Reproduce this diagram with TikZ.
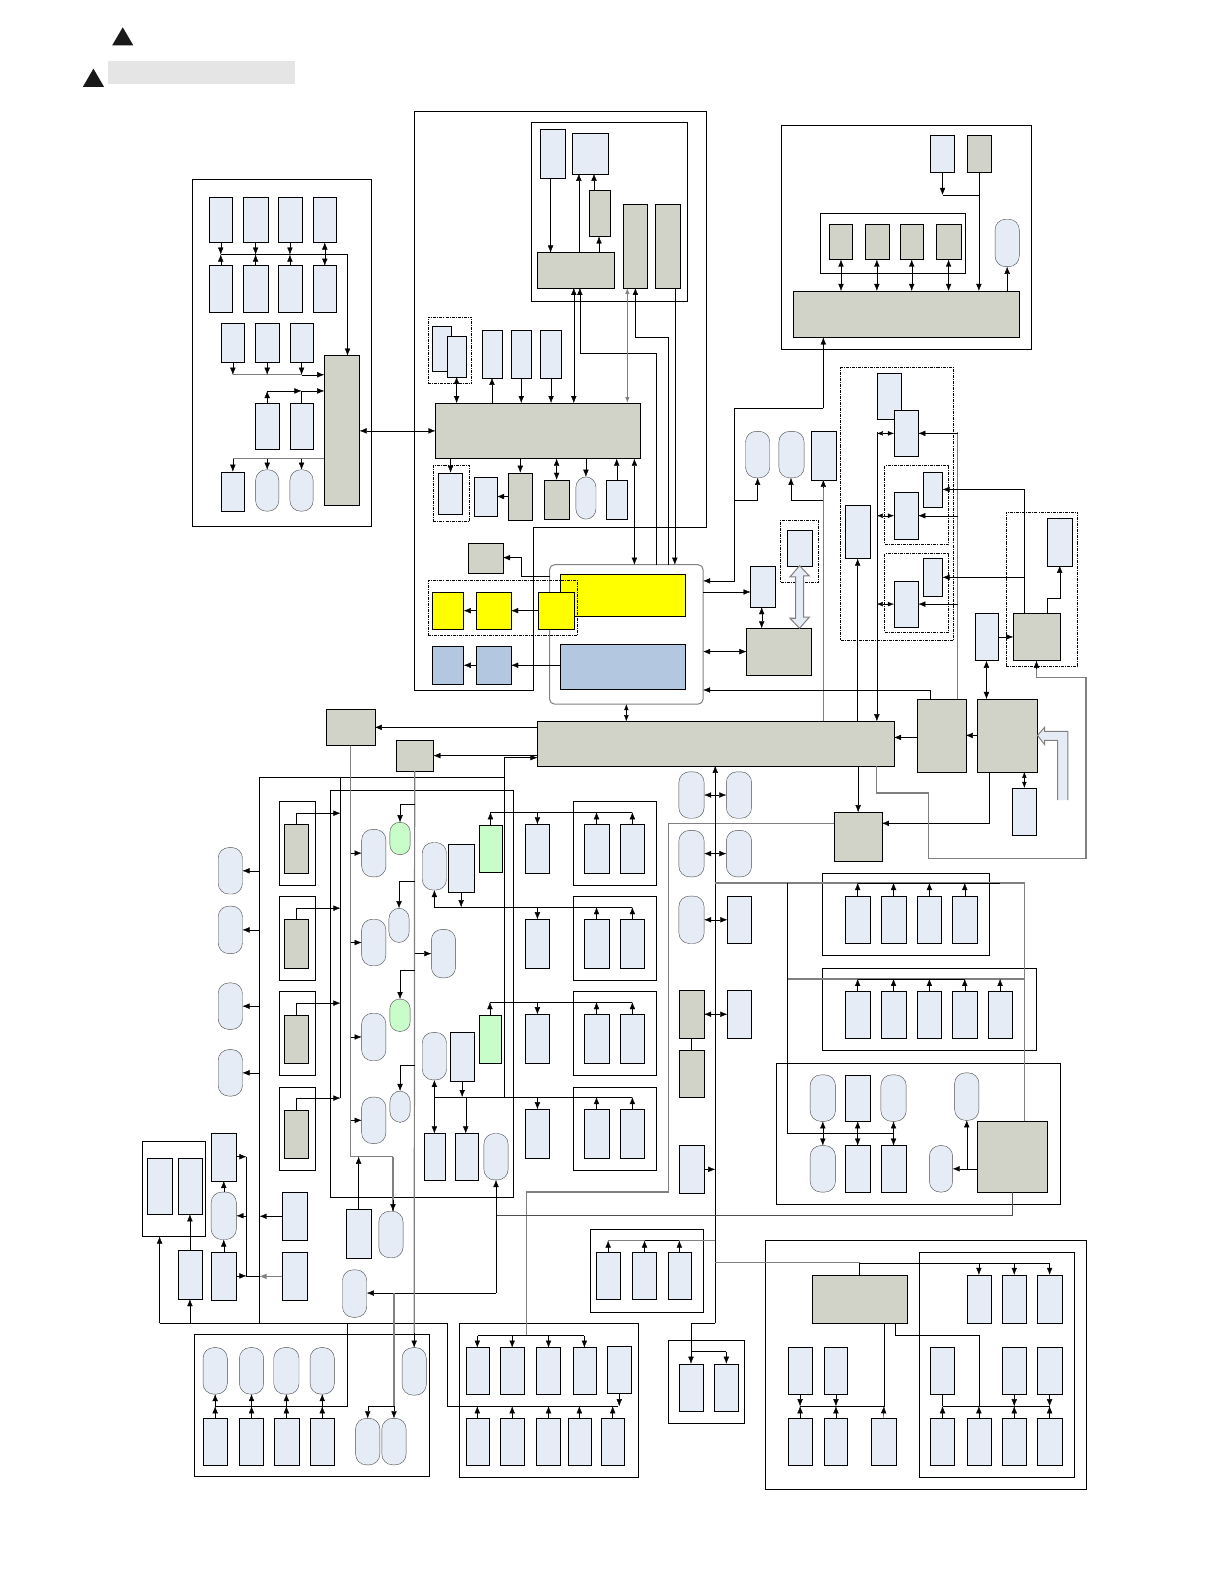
\documentclass[tikz,border=0pt]{standalone}
\usetikzlibrary{arrows.meta}
\definecolor{cB}{HTML}{E6ECF6}
\definecolor{cG}{HTML}{D2D3C8}
\definecolor{cY}{HTML}{FFFF00}
\definecolor{cS}{HTML}{B4C7E0}
\definecolor{cN}{HTML}{C8FCC8}
\definecolor{cL}{HTML}{808080}
\tikzset{
 every node/.style={inner sep=0pt,outer sep=0pt},
 line width=1.05pt,
 ar/.style={-{Latex[length=7pt,width=5.5pt]}},
 dbl/.style={{Latex[length=7pt,width=5.5pt]}-{Latex[length=7pt,width=5.5pt]}},
 sdbl/.style={{Latex[length=6pt,width=4.5pt]}-{Latex[length=6pt,width=4.5pt]}},
 gl/.style={draw=cL,line width=1.2pt},
 bl/.style={rectangle,draw,fill=cB},
 gy/.style={rectangle,draw,fill=cG},
 ye/.style={rectangle,draw,fill=cY},
 st/.style={rectangle,draw,fill=cS},
 gn/.style={rectangle,draw,fill=cN},
 pill/.style={rectangle,draw=black!70,fill=cB,rounded corners=10.5pt},
 gpill/.style={rectangle,draw=black!70,fill=cN,rounded corners=9.5pt},
 panel/.style={rectangle,draw},
 dot/.style={rectangle,draw,dash pattern=on 3pt off 1pt on 1pt off 1pt,line width=0.9pt},
 blockar/.style={draw=cL,fill=cB,line width=1pt},
}
\newcommand\nbox[6][bl]{%
 \pgfmathsetmacro\nbW{#5-#3}\pgfmathsetmacro\nbH{#6-#4}%
 \node[#1,minimum width=\nbW pt,minimum height=\nbH pt,anchor=north west] (#2) at (#3,#4) {};}
\begin{document}
\begin{tikzpicture}[x=1pt,y=-1pt]
\useasboundingbox (0,0) rectangle (1208,1568);
\fill[white] (0,0) rectangle (1208,1568);
% header
\fill[black!90] (111,45) coordinate (tr1) -- (121.5,27) -- (132,45) -- cycle;
\fill[black!90] (82,86) coordinate (tr2) -- (92.5,68) -- (103,86) -- cycle;
\nbox[rectangle,fill=black!10]{hbar}{107}{60}{292}{83}
% panels
\nbox[panel]{pA}{190}{177}{367}{521}
\draw (410,110) -- (699,110) -- (699,522) -- (528,522) -- (528,683) -- (410,683) -- cycle;
\nbox[panel]{pB}{526}{121}{680}{298}
\nbox[panel]{pD}{773}{124}{1021}{346}
\nbox[panel]{pD2}{812}{211}{955}{270}
\nbox[dot]{dB1}{424}{314}{467}{380}
\nbox[dot]{dB2}{429}{461}{465}{516}
\nbox[rectangle,draw=cL,line width=1pt,rounded corners=5pt]{cont}{544}{559}{696}{697}
\nbox[dot]{dR}{773}{515}{810}{577}
\nbox[dot]{dC}{832}{364}{944}{634}
\nbox[dot]{dC1}{876}{461}{939}{539}
\nbox[dot]{dC2}{876}{548}{939}{626}
\nbox[dot]{dH}{996}{507}{1067}{660}
\nbox[panel]{pO}{327}{782}{508}{1185}
\nbox[panel]{pP}{141}{1130}{203}{1224}
\nbox[panel]{s1}{276}{793}{312}{876}
\nbox[panel]{s2}{276}{887}{312}{970}
\nbox[panel]{s3}{276}{981}{312}{1064}
\nbox[panel]{s4}{276}{1076}{312}{1158}
\nbox[panel]{q1}{567}{793}{650}{876}
\nbox[panel]{q2}{567}{887}{650}{970}
\nbox[panel]{q3}{567}{981}{650}{1064}
\nbox[panel]{q4}{567}{1076}{650}{1158}
\nbox[panel]{pL}{814}{864}{979}{946}
\nbox[panel]{pM}{814}{958}{1026}{1040}
\nbox[panel]{pK}{768}{1052}{1049}{1192}
\nbox[panel]{pQ}{192}{1321}{425}{1461}
\nbox[panel]{pR}{455}{1310}{632}{1462}
\nbox[panel]{pS}{584}{1217}{696}{1299}
\nbox[panel]{pU}{661}{1327}{737}{1409}
\nbox[panel]{pT}{757}{1228}{1075}{1474}
\nbox[panel]{pT2}{910}{1240}{1063}{1462}
% panel A boxes
\nbox{a11}{207}{195}{230}{240}\nbox{a12}{241}{195}{265}{240}\nbox{a13}{275}{195}{299}{240}\nbox{a14}{310}{195}{333}{240}
\nbox{a21}{207}{263}{230}{309}\nbox{a22}{241}{263}{265}{309}\nbox{a23}{275}{263}{299}{309}\nbox{a24}{310}{263}{333}{309}
\nbox{a31}{219}{320}{242}{359}\nbox{a32}{253}{320}{276}{359}\nbox{a33}{287}{320}{310}{359}
\nbox{a41}{253}{399}{276}{445}\nbox{a42}{287}{399}{310}{445}
\nbox{a51}{219}{467}{242}{506}\nbox[pill]{a52}{253}{465}{276}{506}\nbox[pill]{a53}{287}{465}{310}{506}
\nbox[gy]{aT}{321}{352}{356}{500}
% panel B boxes
\nbox{t1}{535}{128}{559}{176}\nbox{t2}{566}{132}{602}{172}
\nbox[gy]{t3}{583}{188}{604}{234}\nbox[gy]{t4}{532}{250}{608}{285}
\nbox[gy]{t5}{617}{202}{641}{285}\nbox[gy]{t6}{649}{202}{673}{285}
\nbox[gy]{c}{431}{399}{634}{454}
\nbox{u1}{428}{323}{447}{367}\nbox{u2}{443}{333}{461}{373}
\nbox{u3}{477}{327}{497}{374}\nbox{u4}{506}{327}{526}{374}\nbox{u5}{535}{327}{556}{374}
\nbox{d1}{434}{468}{458}{509}\nbox{d2}{469}{472}{492}{511}
\nbox[gy]{d3}{503}{468}{527}{515}\nbox[gy]{d4}{539}{475}{563}{514}
\nbox[pill]{d5}{570}{472}{590}{514}\nbox{d6}{600}{475}{621}{514}
\nbox[gy]{e1}{463}{538}{498}{567}
\nbox[ye]{yb}{555}{568}{678}{610}
\nbox[dot]{dY}{424}{575}{572}{629}
\nbox[ye]{y1}{428}{586}{459}{623}\nbox[ye]{y2}{471}{586}{506}{623}\nbox[ye]{y3}{533}{586}{568}{623}
\nbox[st]{sb}{555}{638}{678}{682}
\nbox[st]{s5}{428}{640}{459}{677}\nbox[st]{s6}{471}{640}{506}{677}
% right of container
\nbox{r1}{743}{560}{767}{601}\nbox[gy]{r2}{739}{622}{803}{668}
\nbox{r3}{779}{525}{804}{560}
\nbox[pill]{r4}{738}{427}{762}{473}\nbox[pill]{r5}{771}{427}{796}{473}\nbox{r6}{803}{427}{828}{475}
% panel D
\nbox{v1}{921}{134}{945}{170}\nbox[gy]{v2}{957}{134}{981}{170}
\nbox[gy]{v3}{821}{222}{844}{257}\nbox[gy]{v4}{856}{222}{880}{257}\nbox[gy]{v5}{891}{222}{914}{257}\nbox[gy]{v6}{927}{222}{951}{257}
\nbox[gy]{v7}{785}{288}{1009}{334}\nbox[pill]{v8}{985}{217}{1009}{264}
% group C
\nbox{w1}{868}{369}{892}{415}\nbox{w2}{885}{406}{909}{452}
\nbox{w3}{914}{467}{933}{502}\nbox{w4}{885}{487}{909}{534}
\nbox{w5}{914}{553}{933}{590}\nbox{w6}{885}{575}{909}{621}
\nbox{w7}{837}{500}{861}{553}
\nbox{h1}{1037}{513}{1061}{560}\nbox[gy]{h2}{1003}{607}{1049}{654}\nbox{h3}{965}{607}{988}{654}
% main bus
\nbox[gy]{E}{532}{714}{885}{758}
\nbox[gy]{F}{908}{692}{956}{764}\nbox[gy]{G}{967}{692}{1027}{764}
\nbox{g1}{1002}{780}{1026}{827}\nbox[gy]{I}{826}{804}{873}{852}
\nbox[gy]{e2}{323}{702}{371}{738}\nbox[gy]{e3}{392}{733}{429}{763}
% column pills
\nbox[pill]{m1}{672}{764}{697}{810}\nbox[pill]{m2}{719}{764}{744}{810}
\nbox[pill]{m3}{672}{822}{697}{868}\nbox[pill]{m4}{719}{822}{744}{868}
\nbox[pill]{m5}{672}{887}{697}{934}\nbox{m6}{720}{887}{744}{934}
\nbox[gy]{m7}{672}{980}{697}{1028}\nbox{m8}{720}{980}{744}{1028}
\nbox[gy]{m9}{672}{1040}{697}{1086}\nbox{m10}{672}{1134}{697}{1181}
% L, M
\nbox{l1}{837}{887}{861}{934}\nbox{l2}{872}{887}{897}{934}\nbox{l3}{908}{887}{932}{934}\nbox{l4}{943}{887}{967}{934}
\nbox{n1}{837}{981}{861}{1028}\nbox{n2}{872}{981}{897}{1028}\nbox{n3}{908}{981}{932}{1028}\nbox{n4}{943}{981}{967}{1028}\nbox{n5}{978}{981}{1002}{1028}
% K
\nbox[pill]{k1}{802}{1064}{827}{1110}\nbox{k2}{837}{1064}{861}{1110}\nbox[pill]{k3}{872}{1064}{897}{1110}\nbox[pill]{k4}{945}{1062}{969}{1109}
\nbox[pill]{k5}{802}{1134}{827}{1180}\nbox{k6}{837}{1134}{861}{1180}\nbox{k7}{872}{1134}{897}{1180}\nbox[pill]{k8}{920}{1134}{943}{1180}
\nbox[gy]{K}{967}{1110}{1037}{1180}
% left stacks
\nbox[gy]{i1}{281}{816}{305}{864}\nbox[gy]{i2}{281}{910}{305}{958}\nbox[gy]{i3}{281}{1005}{305}{1052}\nbox[gy]{i4}{281}{1099}{305}{1146}
\nbox[pill]{o1}{216}{839}{240}{885}\nbox[pill]{o2}{216}{897}{240}{944}\nbox[pill]{o3}{216}{973}{240}{1019}\nbox[pill]{o4}{216}{1039}{240}{1085}
\nbox[pill]{f1}{358}{821}{382}{868}\nbox[pill]{f2}{358}{910}{382}{956}\nbox[pill]{f3}{358}{1003}{382}{1050}\nbox[pill]{f4}{358}{1086}{382}{1132}
\nbox[gpill]{j1}{386}{814}{406}{846}\nbox[pill]{j2}{385}{899}{405}{933}\nbox[gpill]{j3}{386}{989}{406}{1021}\nbox[pill]{j4}{386}{1080}{406}{1111}
\nbox[pill]{x0}{427}{920}{451}{968}
\nbox[pill]{x1}{418}{834}{442}{881}\nbox{x2}{444}{836}{469}{883}\nbox[gn]{x3}{474}{817}{497}{863}
\nbox[pill]{x4}{418}{1022}{442}{1069}\nbox{x5}{446}{1022}{469}{1070}\nbox[gn]{x6}{474}{1005}{496}{1052}
\nbox{x7}{420}{1122}{441}{1168}\nbox{x8}{451}{1122}{473}{1168}\nbox[pill]{x9}{479}{1122}{503}{1168}
\foreach \i/\a/\b in {1/816/864,2/910/958,3/1004/1052,4/1098/1146}{
 \nbox{z\i a}{520}{\a}{544}{\b}\nbox{z\i b}{578}{\a}{603}{\b}\nbox{z\i c}{614}{\a}{638}{\b}}
% bottom left
\nbox{b1}{146}{1146}{170}{1202}\nbox{b2}{176}{1146}{200}{1202}
\nbox{b3}{209}{1122}{234}{1169}\nbox[pill]{b4}{209}{1180}{234}{1227}
\nbox{b5}{176}{1238}{200}{1286}\nbox{b6}{209}{1240}{234}{1287}
\nbox{b7}{279}{1180}{304}{1228}\nbox{b8}{279}{1240}{304}{1287}
\nbox{b9}{343}{1197}{367}{1245}\nbox[pill]{b10}{375}{1199}{399}{1245}\nbox[pill]{b11}{339}{1257}{363}{1304}
% Q
\foreach \i/\a/\b in {1/201/225,2/237/261,3/271/296,4/307/331}{
 \nbox[pill]{qa\i}{\a}{1334}{\b}{1380}\nbox{qb\i}{\a}{1404}{\b}{1450}}
\nbox[pill]{qc}{398}{1334}{422}{1381}\nbox[pill]{qd}{352}{1404}{376}{1450}\nbox[pill]{qe}{378}{1404}{402}{1450}
% R
\foreach \i/\a/\b in {1/461/484,2/495/519,3/531/555,4/567/590}{\nbox{ra\i}{\a}{1334}{\b}{1380}}
\nbox{ra5}{601}{1333}{625}{1379}
\foreach \i/\a/\b in {1/461/484,2/495/519,3/531/555,4/562/585,5/595/618}{\nbox{rb\i}{\a}{1404}{\b}{1450}}
% S, U
\nbox{sa}{590}{1240}{614}{1286}\nbox{sc}{626}{1240}{650}{1286}\nbox{sd}{661}{1240}{684}{1286}
\nbox{ua}{672}{1350}{696}{1397}\nbox{ub}{707}{1350}{731}{1397}
% T
\nbox[gy]{T}{804}{1262}{898}{1310}
\nbox{ta1}{957}{1262}{981}{1310}\nbox{ta2}{992}{1262}{1016}{1310}\nbox{ta3}{1027}{1262}{1051}{1310}
\nbox{tb1}{780}{1334}{804}{1380}\nbox{tb2}{816}{1334}{839}{1380}\nbox{tb3}{921}{1334}{945}{1380}\nbox{tb4}{992}{1334}{1016}{1380}\nbox{tb5}{1027}{1334}{1051}{1380}
\nbox{tc1}{780}{1404}{804}{1450}\nbox{tc2}{816}{1404}{839}{1450}\nbox{tc3}{862}{1404}{887}{1450}
\nbox{tc4}{921}{1404}{945}{1450}\nbox{tc5}{957}{1404}{981}{1450}\nbox{tc6}{992}{1404}{1016}{1450}\nbox{tc7}{1027}{1404}{1051}{1450}
% ---------- connectors: panel A
\coordinate (bA) at (344,252);\coordinate (bB) at (321,371);\coordinate (bC) at (321,387);\coordinate (bD) at (321,454);
\draw[ar] (a11.south |- bA) -- (bA) -- (bA |- aT.north);
\foreach \n in {1,2,3}{\draw[ar] (a1\n.south) -- (a1\n.south |- bA);\draw[ar] (a2\n.north) -- (a2\n.north |- bA);}
\draw[dbl] (a14.south) -- (a24.north);
\draw[gl] (a31.south |- bB) -- (a33.south |- bB);
\draw[ar] (a33.south |- bB) -- (bB);
\foreach \n in {1,2,3}{\draw[ar] (a3\n.south) -- (a3\n.south |- bB);}
\draw[ar] (a41.north) -- (a41.north |- bC);
\draw[ar] (a41.north |- bC) -- (a42.north |- bC);
\draw (a42.north) -- (a42.north |- bC);
\draw[ar] (a42.north |- bC) -- (bC);
\draw[gl] (bD) -- (a51.north |- bD);
\foreach \n in {1,2,3}{\draw[ar] (a5\n.north |- bD) -- (a5\n.north);}
\draw[dbl] (aT.east |- c.west) -- (c.west);
% panel B
\coordinate (cA) at (545,0);\coordinate (cB1) at (573,0);\coordinate (cB2) at (593,0);\coordinate (cB3) at (588,0);
\draw[ar] (cA |- t1.south) -- (cA |- t4.north);
\draw[ar] (cB1 |- t4.north) -- (cB1 |- t2.south);
\draw[ar] (cB3 |- t3.north) -- (cB3 |- t2.south);
\draw[ar] (cB2 |- t4.north) -- (cB2 |- t3.south);
\coordinate (cC) at (568,0);\coordinate (cD) at (574,350);\coordinate (cE) at (650,350);
\coordinate (cF) at (621,0);\coordinate (cG) at (629,334);\coordinate (cH) at (661,334);\coordinate (cI) at (668,0);\coordinate (cJ) at (628,0);
\draw[dbl] (cC |- t4.south) -- (cC |- c.north);
\draw[ar] (cE |- cont.north) -- (cE) -- (cD) -- (cD |- t4.south);
\draw[sdbl,gl] (cF |- t5.south) -- (cF |- c.north);
\draw[ar] (cH |- cont.north) -- (cH) -- (cG) -- (cG |- t5.south);
\draw[ar] (cI |- t6.south) -- (cI |- cont.north);
\draw[dbl] (cJ |- c.south) -- (cJ |- cont.north);
\coordinate (cK) at (452,0);
\draw[dbl] (cK |- u2.south) -- (cK |- c.north);
\draw[ar] (u3.south |- c.north) -- (u3.south);
\draw[ar] (u4.south) -- (u4.south |- c.north);
\draw[ar] (u5.south) -- (u5.south |- c.north);
\draw[ar] (d1.north |- c.south) -- (d1.north);
\draw[ar] (d3.north |- c.south) -- (d3.north);
\draw[dbl] (d4.north |- c.south) -- (d4.north);
\draw[ar] (d5.north |- c.south) -- (d5.north);
\draw[ar] (d6.north) -- (d6.north |- c.south);
\draw[ar] (d3.west |- d2.east) -- (d2.east);
\coordinate (cL1) at (516,570);\coordinate (cL2) at (516,552);
\draw[ar] (cont.west |- cL1) -- (cL1) -- (cL2) -- (e1.east |- cL2);
\draw[ar] (y3.west) -- (y2.east);\draw[ar] (y2.west) -- (y1.east);
\draw[ar] (sb.west |- s6.east) -- (s6.east);\draw[ar] (s6.west) -- (s5.east);
% right of container
\coordinate (rA) at (727,575);\coordinate (rB) at (727,404);\coordinate (rC) at (815,404);\coordinate (rD) at (727,495);\coordinate (rE) at (783,495);
\draw[ar] (rC) -- (rB) -- (rA) -- (cont.east |- rA);
\draw[ar] (rC) -- (rC |- v7.south);
\draw[ar] (rD) -- (rD -| r4.south) -- (r4.south);
\coordinate (rF) at (696,586);
\draw[ar] (rF) -- (r1.west |- rF);
\draw[dbl] (cont.east |- r2.west) -- (r2.west);
\coordinate (rG) at (754,0);
\draw[dbl] (rG |- r1.south) -- (rG |- r2.north);
\coordinate (rH) at (815,0);
\draw[gl] (rH |- E.north) -- (rH |- r6.south);
\draw[-{Latex[length=7pt,width=5.5pt]}] (815,482) -- (rH |- r6.south);
\draw (rH |- rE) -- (rE);
\draw[ar] (rE) -- (rE |- r5.south);
\draw[blockar] (r3.south) -- ++(9.5,10) -- ++(-5.5,0) -- ++(0,41) -- ++(5.5,0) -- (r3.south |- r2.north) -- ++(-9.5,-10) -- ++(5.5,0) -- ++(0,-41) -- ++(-5.5,0) -- cycle;
% panel D
\foreach \n in {3,4,5,6}{\draw[dbl] (v\n.south) -- (v\n.south |- v7.north);}
\coordinate (dA) at (969,193);
\draw[ar] (v1.south) -- (v1.south |- dA);
\draw (v1.south |- dA) -- (dA);
\draw[ar] (v2.south) -- (v2.south |- v7.north);
\coordinate (dB) at (997,0);
\draw[ar] (dB |- v7.north) -- (dB |- v8.south);
% group C
\coordinate (gA) at (868,428);\coordinate (gB) at (948,428);
\draw[ar] (w7.south |- E.north) -- (w7.south);
\draw[ar] (gA) -- (gA |- E.north);
\foreach \n in {2,4,6}{\draw[sdbl] (gA |- w\n.west) -- (w\n.west);}
\draw[gl] (gB) -- (gB |- F.north);
\foreach \n in {2,4,6}{\draw[ar] (gB |- w\n.east) -- (w\n.east);}
\coordinate (gC) at (1014,0);
\draw (gC |- h2.north) -- (gC |- w3.east);
\draw[ar] (gC |- w3.east) -- (w3.east);
\draw[ar] (gC |- w5.east) -- (w5.east);
\draw[ar] (h3.east) -- (h2.west);
\coordinate (hA) at (1037,0);\coordinate (hB) at (1037,592);\coordinate (hC) at (1049,592);
\draw[ar] (hA |- h2.north) -- (hB) -- (hC) -- (h1.south);
\draw[dbl] (h3.south) -- (h3.south |- G.north);
% main
\coordinate (eA) at (620,0);
\draw[sdbl] (eA |- cont.south) -- (eA |- E.north);
\coordinate (eB) at (921,683);
\draw[ar] (F.north -| eB) -- (eB) -- (cont.east |- eB);
\coordinate (eC) at (0,728);\coordinate (eD) at (0,730);
\draw[ar] (G.west |- eC) -- (F.east |- eC);
\draw[ar] (F.west |- eD) -- (E.east |- eD);
\fill[cB] (G.east |- 0,728) -- (1034,720) -- (1034,724) -- (1057,724) -- (1057,792) -- (1047,792) -- (1047,733) -- (1034,733) -- (1034,737) -- cycle;
\draw[draw=cL,line width=1pt] (1047,792) -- (1047,733) -- (1034,733) -- (1034,737) -- (G.east |- 0,728) -- (1034,720) -- (1034,724) -- (1057,724) -- (1057,792);
\draw[sdbl] (g1.north) -- (g1.north |- G.south);
\draw[ar] (I.north |- E.south) -- (I.north);
\coordinate (iA) at (979,815);
\draw[ar] (iA |- G.south) -- (iA) -- (I.east |- iA);
\coordinate (iB) at (868,785);\coordinate (iC) at (919,785);\coordinate (iD) at (919,850);\coordinate (iE) at (1075,850);\coordinate (iF) at (1075,671);\coordinate (iG) at (1026,671);
\draw[gl] (iB |- E.south) -- (iB) -- (iC) -- (iD) -- (iE) -- (iF) -- (iG) -- (iG |- h2.south);
\draw[ar] (iG |- 0,662) -- (iG |- h2.south);
% I to bottom
\coordinate (iH) at (662,815);\coordinate (iI) at (662,1180);\coordinate (iJ) at (521,1180);\coordinate (iK) at (521,1322);
\draw[gl] (I.west |- iH) -- (iH) -- (iI) -- (iJ) -- (iK);
% main vertical
\coordinate (vA) at (708,1310);\coordinate (vB) at (684,1310);\coordinate (vC) at (684,1338);\coordinate (vD) at (719,1338);
\draw (vC) -- (vB) -- (vA);
\draw[ar] (vA) -- (vA |- E.south);
\draw (vC) -- (vD);
\draw[ar] (vC) -- (ua.north);\draw[ar] (vD) -- (ub.north);
\draw[dbl] (m1.east) -- (m2.west);\draw[dbl] (m3.east) -- (m4.west);\draw[dbl] (m5.east) -- (m6.west);\draw[dbl] (m7.east) -- (m8.west);
\draw (m7.south) -- (m9.north);
\draw[ar] (m10.east) -- (vA |- m10.east);
% gray to the right
\coordinate (yA) at (708,874);\coordinate (yB) at (1014,874);\coordinate (yC) at (779,969);\coordinate (yD) at (1014,969);
\draw[gl] (yA) -- (yB) -- (yB |- K.north);
\draw[gl] (yC) -- (yD);
\coordinate (yE) at (779,1122);
\draw (yA -| yC) -- (yE) -- (k3.south |- yE);
\draw (l1.north |- yB) -- (990,874);
\foreach \n in {1,2,3,4}{\draw[ar] (l\n.north) -- (l\n.north |- yB);}
\draw (n1.north |- yD) -- (955,969);
\foreach \n in {1,2,3,4,5}{\draw[ar] (n\n.north) -- (n\n.north |- yD);}
\draw[dbl] (k1.south) -- (k5.north);\draw[dbl] (k2.south) -- (k6.north);\draw[dbl] (k3.south) -- (k7.north);
\draw[ar] (K.west |- k8.east) -- (k8.east);
\draw[ar] (k4.south |- k8.east) -- (k4.south);
% K to pills
\coordinate (zA) at (491,1203);\coordinate (zB) at (1002,1203);\coordinate (zC) at (491,1280);
\draw[draw=black!70] (K.south -| zB) -- (zB) -- (zA);
\draw[ar] (zC) -- (x9.south);
\draw[ar] (zC) -- (b11.east |- zC);
% gray to bottom
\coordinate (zD) at (708,1250);\coordinate (zE) at (851,1250);\coordinate (zF) at (708,1228);
\draw[gl] (zD) -- (zE);
\draw (T.north -| zE) -- (zE) -- (ta3.north |- zE);
\foreach \n in {1,2,3}{\draw[ar] (ta\n.north |- zE) -- (ta\n.north);}
% S
\draw[gl] (sa.north |- zF) -- (sc.north |- zF);
\draw (sc.north |- zF) -- (sd.north |- zF);
\draw[gl] (sd.north |- zF) -- (zF);
\draw[ar] (sa.north) -- (sa.north |- zF);\draw[ar] (sc.north) -- (sc.north |- zF);\draw[ar] (sd.north) -- (sd.north |- zF);
% T lower
\coordinate (tA) at (875,1392);\coordinate (tB) at (969,1392);\coordinate (tC) at (886,1322);\coordinate (tD) at (969,1322);
\draw (tb1.south |- tA) -- (tA) -- (tA |- T.south);
\draw[ar] (tc3.north) -- (tA);
\foreach \n in {1,2}{\draw[ar] (tb\n.south) -- (tb\n.south |- tA);\draw[ar] (tc\n.north) -- (tc\n.north |- tA);}
\draw (tC |- T.south) -- (tC) -- (tD) -- (tB);
\draw (tb3.south |- tB) -- (tb5.south |- tB);
\draw (tb3.south) -- (tb3.south |- tB);
\foreach \n in {4,5}{\draw[ar] (tb\n.south) -- (tb\n.south |- tB);}
\foreach \n in {4,5,6,7}{\draw[ar] (tc\n.north) -- (tc\n.north |- tB);}
% left block
\coordinate (pA1) at (257,769);\coordinate (pA2) at (499,769);\coordinate (pA3) at (257,1310);\coordinate (pA4) at (158,1310);\coordinate (pA5) at (443,1310);\coordinate (pA6) at (443,1392);\coordinate (pA7) at (612,1392);
\draw (pA2) -- (pA1) -- (pA3);
\draw (pA4) -- (pA5) -- (pA6) -- (pA7);
\draw[ar] (pA4) -- (pA4 |- pP.south);
\draw[ar] (b5.south |- pA4) -- (b5.south);
\draw[ar] (b5.north) -- (b2.south);
\coordinate (pB1) at (499,1086);\coordinate (pB2) at (499,750);
\draw (pB1) -- (pB2);
\draw[ar] (pB2) -- (E.west |- pB2);
\coordinate (pC) at (337,769);\coordinate (pC2) at (337,1087);
\draw (pC) -- (pC2);
\foreach \n/\y in {1/805,2/899,3/993,4/1087}{
 \draw[ar] (i\n.north) -- (i\n.north |- 0,\y) -- (pC |- 0,\y);}
\foreach \n in {1,2,3,4}{\draw[ar] (pA1 |- o\n.east) -- (o\n.east);}
% gray verticals
\coordinate (sA) at (347,1145);\coordinate (sB) at (389,1145);
\draw[gl] (e2.south) -- (sA) -- (sB);
\draw[gl] (sB) -- (sB |- b10.north);
\draw[ar] (sB |- 0,1188) -- (sB |- b10.north);
\foreach \n in {1,2,3,4}{\draw[ar] (sA |- f\n.west) -- (f\n.west);}
\coordinate (sC) at (410,1320);
\draw[gl] (e3.south) -- (sC);
\draw[ar] (sC) -- (qc.north);
\draw[ar] (E.west |- e2.east) -- (e2.east);
\draw[ar] (E.west |- e3.east) -- (e3.east);
\foreach \n/\y in {1/796,2/872,3/960,4/1054}{
 \draw[ar] (e3.south |- 0,\y) -- (j\n.north |- 0,\y) -- (j\n.north);}
\draw[ar] (e3.south |- x0.west) -- (x0.west);
% buses to right stacks
\foreach \i/\y in {1/804,2/898,3/992,4/1086}{
 \coordinate (bus\i) at (626,\y);
 \draw[ar] (z\i a.north |- bus\i) -- (z\i a.north);
 \draw[ar] (z\i b.north) -- (z\i b.north |- bus\i);
 \draw[ar] (z\i c.north) -- (z\i c.north |- bus\i);}
\draw[ar] (x3.north) -- (x3.north |- bus1);\draw (x3.north |- bus1) -- (bus1);
\draw[ar] (x6.north) -- (x6.north |- bus3);\draw (x6.north |- bus3) -- (bus3);
\draw (x1.south |- bus2) -- (bus2);\draw[ar] (x1.south |- bus2) -- (x1.south);\draw[ar] (x2.south) -- (x2.south |- bus2);
\draw (x4.south |- bus4) -- (bus4);
\draw[dbl] (x4.south) -- (x7.north -| x4.south);
\draw[ar] (x5.south) -- (x5.south |- bus4);
\coordinate (bus4b) at (461,1086);
\draw[ar] (bus4b) -- (bus4b |- x8.north);
\draw[ar] (b9.north) -- (b9.north |- sA);
% P region
\draw[ar] (b6.north) -- (b4.south);\draw[ar] (b4.north) -- (b3.south);
\coordinate (pD1) at (244,1145);\coordinate (pD2) at (244,1263);
\draw (pD2) -- (pD1);
\draw[ar] (b3.east |- pD1) -- (pD1);
\draw[ar] (b6.east |- pD2) -- (pD2);
\draw (pD2) -- (pD2 -| pA3);
\draw[ar] (pD1 |- b4.east) -- (b4.east);
\draw[ar] (b7.west) -- (pA3 |- b7.west);
\draw[ar,draw=cL] (b8.west) -- (pA3 |- b8.west);
% Q
\coordinate (qA) at (344,1392);
\draw (pA3 -| qA) -- (qA) -- (qb1.north |- qA);
\foreach \n in {1,2,3,4}{\draw[ar] (qb\n.north) -- (qb\n.north |- qA);\draw[ar] (qa\n.south |- qA) -- (qa\n.south);}
\coordinate (qB) at (390,1392);
\draw[gl] (390,1280) -- (qB);
\draw (qB) -- (qd.north |- qB);
\draw[ar] (qB) -- (qB |- qe.north);
\draw[ar] (qd.north |- qB) -- (qd.north);
% R
\coordinate (rrA) at (473,1322);\coordinate (rrB) at (578,1322);
\draw (rrA) -- (rrB);
\foreach \n in {1,2,3,4}{\draw[ar] (ra\n.north |- rrA) -- (ra\n.north);}
\draw[ar] (ra5.south) -- (ra5.south |- pA7);
\foreach \n in {1,2,3,4,5}{\draw[ar] (rb\n.north) -- (rb\n.north |- pA7);}
\end{tikzpicture}
\end{document}
